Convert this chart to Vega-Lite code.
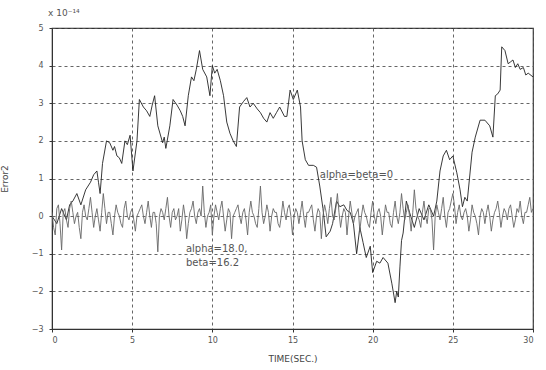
{
  "$schema": "https://vega.github.io/schema/vega-lite/v6.json",
  "autosize": "none",
  "width": 481,
  "height": 301,
  "padding": {"left": 52, "top": 28, "right": 13, "bottom": 41},
  "background": "white",
  "title": {"text": "x 10⁻¹⁴", "anchor": "start", "frame": "group", "fontSize": 9, "fontWeight": "normal", "color": "#555", "font": "DejaVu Sans", "offset": 6, "dx": -4},
  "config": {
    "view": {"stroke": "#333", "strokeWidth": 1.2},
    "axis": {"gridColor": "#555", "gridDash": [3, 3], "gridWidth": 1, "gridOpacity": 0.9, "domainColor": "#333", "tickColor": "#333", "tickSize": 3, "labelFont": "DejaVu Sans", "labelFontSize": 8, "labelColor": "#555", "labelOverlap": false, "titleFont": "DejaVu Sans", "titleFontWeight": "normal", "titleColor": "#444", "titleFontSize": 9}
  },
  "datasets": {
    "notes": [
      {"t": 16.7, "v": 1.08, "label": "alpha=beta=0"},
      {"t": 8.35, "v": -0.88, "label": "alpha=18.0,"},
      {"t": 8.35, "v": -1.25, "label": "beta=16.2"}
    ],
    "series": [
      {"s":"a","t":0,"v":0.0},{"s":"a","t":0.3,"v":-0.2},{"s":"a","t":0.6,"v":0.2},{"s":"a","t":0.9,"v":-0.1},{"s":"a","t":1.1,"v":0.3},
      {"s":"a","t":1.3,"v":0.4},{"s":"a","t":1.55,"v":0.6},{"s":"a","t":1.8,"v":0.3},{"s":"a","t":2.1,"v":0.7},{"s":"a","t":2.4,"v":0.9},{"s":"a","t":2.6,"v":1.1},{"s":"a","t":2.8,"v":1.2},{"s":"a","t":2.9,"v":0.9},{"s":"a","t":3.0,"v":0.6},{"s":"a","t":3.15,"v":1.4},
      {"s":"a","t":3.4,"v":2.0},{"s":"a","t":3.6,"v":1.95},{"s":"a","t":3.8,"v":1.75},{"s":"a","t":3.9,"v":1.85},{"s":"a","t":4.05,"v":1.6},{"s":"a","t":4.2,"v":1.55},{"s":"a","t":4.35,"v":1.4},{"s":"a","t":4.55,"v":2.0},{"s":"a","t":4.7,"v":1.9},{"s":"a","t":4.87,"v":2.15},{"s":"a","t":5.05,"v":1.2},
      {"s":"a","t":5.3,"v":2.0},{"s":"a","t":5.45,"v":3.1},{"s":"a","t":5.7,"v":2.9},{"s":"a","t":5.9,"v":2.8},{"s":"a","t":6.1,"v":2.65},{"s":"a","t":6.25,"v":2.95},{"s":"a","t":6.4,"v":3.2},{"s":"a","t":6.6,"v":2.4},{"s":"a","t":6.9,"v":1.95},{"s":"a","t":7.0,"v":2.1},{"s":"a","t":7.1,"v":1.8},
      {"s":"a","t":7.35,"v":2.4},{"s":"a","t":7.55,"v":3.1},{"s":"a","t":7.8,"v":2.95},{"s":"a","t":8.0,"v":2.8},{"s":"a","t":8.15,"v":2.65},{"s":"a","t":8.3,"v":2.4},{"s":"a","t":8.5,"v":3.2},{"s":"a","t":8.7,"v":3.7},{"s":"a","t":8.85,"v":3.6},{"s":"a","t":9.0,"v":3.9},{"s":"a","t":9.2,"v":4.4},
      {"s":"a","t":9.4,"v":3.9},{"s":"a","t":9.65,"v":3.7},{"s":"a","t":9.85,"v":3.2},{"s":"a","t":10.0,"v":4.0},{"s":"a","t":10.15,"v":3.8},{"s":"a","t":10.3,"v":3.9},{"s":"a","t":10.5,"v":3.6},{"s":"a","t":10.7,"v":3.2},{"s":"a","t":10.9,"v":2.5},{"s":"a","t":11.1,"v":2.2},
      {"s":"a","t":11.3,"v":2.0},{"s":"a","t":11.5,"v":1.85},{"s":"a","t":11.7,"v":2.9},{"s":"a","t":11.95,"v":3.05},{"s":"a","t":12.15,"v":3.15},{"s":"a","t":12.35,"v":2.9},{"s":"a","t":12.55,"v":3.0},{"s":"a","t":12.8,"v":2.85},{"s":"a","t":13.0,"v":2.75},
      {"s":"a","t":13.2,"v":2.6},{"s":"a","t":13.4,"v":2.5},{"s":"a","t":13.6,"v":2.75},{"s":"a","t":13.8,"v":2.6},{"s":"a","t":14.0,"v":2.75},{"s":"a","t":14.2,"v":2.9},{"s":"a","t":14.5,"v":2.65},{"s":"a","t":14.65,"v":2.65},{"s":"a","t":14.85,"v":3.35},
      {"s":"a","t":15.05,"v":3.1},{"s":"a","t":15.3,"v":3.35},{"s":"a","t":15.5,"v":2.9},{"s":"a","t":15.6,"v":2.0},{"s":"a","t":15.8,"v":1.5},{"s":"a","t":16.0,"v":1.35},{"s":"a","t":16.3,"v":1.35},{"s":"a","t":16.5,"v":1.3},{"s":"a","t":16.7,"v":0.8},
      {"s":"a","t":16.9,"v":0.2},{"s":"a","t":17.1,"v":-0.55},{"s":"a","t":17.35,"v":-0.4},{"s":"a","t":17.5,"v":-0.2},{"s":"a","t":17.75,"v":0.4},{"s":"a","t":17.95,"v":0.25},{"s":"a","t":18.2,"v":0.3},{"s":"a","t":18.4,"v":0.15},{"s":"a","t":18.6,"v":0.1},
      {"s":"a","t":18.8,"v":-0.2},{"s":"a","t":19.0,"v":-1.0},{"s":"a","t":19.2,"v":-0.3},{"s":"a","t":19.4,"v":-0.7},{"s":"a","t":19.6,"v":-1.1},{"s":"a","t":19.85,"v":-0.8},{"s":"a","t":20.0,"v":-1.5},{"s":"a","t":20.25,"v":-1.2},{"s":"a","t":20.45,"v":-1.25},
      {"s":"a","t":20.65,"v":-1.1},{"s":"a","t":20.95,"v":-1.25},{"s":"a","t":21.2,"v":-1.8},{"s":"a","t":21.4,"v":-2.3},{"s":"a","t":21.5,"v":-2.0},{"s":"a","t":21.6,"v":-2.15},{"s":"a","t":21.7,"v":-1.35},{"s":"a","t":21.8,"v":-0.65},{"s":"a","t":21.9,"v":-0.45},
      {"s":"a","t":22.1,"v":0.4},{"s":"a","t":22.3,"v":0.1},{"s":"a","t":22.6,"v":-0.3},{"s":"a","t":22.9,"v":0.2},{"s":"a","t":23.2,"v":-0.1},{"s":"a","t":23.5,"v":0.3},{"s":"a","t":23.8,"v":0.0},{"s":"a","t":24.0,"v":0.4},{"s":"a","t":24.2,"v":1.2},
      {"s":"a","t":24.4,"v":1.6},{"s":"a","t":24.6,"v":1.75},{"s":"a","t":24.8,"v":1.5},{"s":"a","t":25.0,"v":1.6},{"s":"a","t":25.25,"v":1.15},{"s":"a","t":25.45,"v":0.7},{"s":"a","t":25.6,"v":0.25},{"s":"a","t":25.75,"v":0.5},{"s":"a","t":25.9,"v":0.4},
      {"s":"a","t":26.2,"v":1.7},{"s":"a","t":26.4,"v":2.1},{"s":"a","t":26.7,"v":2.55},{"s":"a","t":27.0,"v":2.55},{"s":"a","t":27.3,"v":2.4},{"s":"a","t":27.5,"v":2.1},{"s":"a","t":27.65,"v":3.2},{"s":"a","t":27.8,"v":3.25},{"s":"a","t":27.95,"v":3.35},
      {"s":"a","t":28.05,"v":4.5},{"s":"a","t":28.25,"v":4.4},{"s":"a","t":28.45,"v":4.05},{"s":"a","t":28.6,"v":4.1},{"s":"a","t":28.75,"v":4.15},{"s":"a","t":28.9,"v":3.95},{"s":"a","t":29.05,"v":4.05},{"s":"a","t":29.2,"v":3.9},{"s":"a","t":29.4,"v":3.95},{"s":"a","t":29.55,"v":3.75},{"s":"a","t":29.7,"v":3.8},{"s":"a","t":30.0,"v":3.7},
      {"s":"b","t":0.0,"v":0.1},{"s":"b","t":0.1,"v":-0.3},{"s":"b","t":0.2,"v":-0.5},{"s":"b","t":0.3,"v":0.2},{"s":"b","t":0.4,"v":0.3},{"s":"b","t":0.5,"v":-0.2},{"s":"b","t":0.6,"v":-0.9},{"s":"b","t":0.7,"v":0.1},{"s":"b","t":0.8,"v":0.2},{"s":"b","t":0.9,"v":-0.1},
      {"s":"b","t":1.0,"v":-0.3},{"s":"b","t":1.1,"v":0.2},{"s":"b","t":1.2,"v":0.4},{"s":"b","t":1.3,"v":0.1},{"s":"b","t":1.4,"v":-0.2},{"s":"b","t":1.5,"v":0.0},{"s":"b","t":1.6,"v":0.1},{"s":"b","t":1.7,"v":-0.3},{"s":"b","t":1.8,"v":-0.6},{"s":"b","t":1.9,"v":0.1},
      {"s":"b","t":2.0,"v":0.3},{"s":"b","t":2.1,"v":0.0},{"s":"b","t":2.2,"v":-0.1},{"s":"b","t":2.3,"v":0.2},{"s":"b","t":2.4,"v":0.5},{"s":"b","t":2.5,"v":0.1},{"s":"b","t":2.6,"v":-0.3},{"s":"b","t":2.7,"v":0.0},{"s":"b","t":2.8,"v":0.2},{"s":"b","t":2.9,"v":-0.1},
      {"s":"b","t":3.0,"v":-0.4},{"s":"b","t":3.1,"v":0.1},{"s":"b","t":3.2,"v":0.6},{"s":"b","t":3.3,"v":0.2},{"s":"b","t":3.4,"v":-0.2},{"s":"b","t":3.5,"v":0.1},{"s":"b","t":3.6,"v":0.1},{"s":"b","t":3.7,"v":-0.2},{"s":"b","t":3.8,"v":-0.5},{"s":"b","t":3.9,"v":0.0},
      {"s":"b","t":4.0,"v":0.3},{"s":"b","t":4.1,"v":0.1},{"s":"b","t":4.2,"v":0.0},{"s":"b","t":4.3,"v":-0.2},{"s":"b","t":4.4,"v":-0.3},{"s":"b","t":4.5,"v":0.2},{"s":"b","t":4.6,"v":0.4},{"s":"b","t":4.7,"v":0.0},{"s":"b","t":4.8,"v":-0.1},{"s":"b","t":4.9,"v":0.1},
      {"s":"b","t":5.0,"v":0.2},{"s":"b","t":5.1,"v":-0.1},{"s":"b","t":5.2,"v":-0.4},{"s":"b","t":5.3,"v":0.0},{"s":"b","t":5.4,"v":0.1},{"s":"b","t":5.5,"v":0.2},{"s":"b","t":5.6,"v":0.3},{"s":"b","t":5.7,"v":0.0},{"s":"b","t":5.8,"v":-0.2},{"s":"b","t":5.9,"v":0.1},
      {"s":"b","t":6.0,"v":0.4},{"s":"b","t":6.1,"v":0.0},{"s":"b","t":6.2,"v":-0.3},{"s":"b","t":6.3,"v":0.1},{"s":"b","t":6.4,"v":0.1},{"s":"b","t":6.5,"v":-0.2},{"s":"b","t":6.6,"v":-0.95},{"s":"b","t":6.7,"v":0.0},{"s":"b","t":6.8,"v":0.2},{"s":"b","t":6.9,"v":0.1},
      {"s":"b","t":7.0,"v":-0.1},{"s":"b","t":7.1,"v":0.2},{"s":"b","t":7.2,"v":0.5},{"s":"b","t":7.3,"v":0.0},{"s":"b","t":7.4,"v":-0.3},{"s":"b","t":7.5,"v":0.1},{"s":"b","t":7.6,"v":0.2},{"s":"b","t":7.7,"v":-0.1},{"s":"b","t":7.8,"v":0.0},{"s":"b","t":7.9,"v":0.2},
      {"s":"b","t":8.0,"v":-0.4},{"s":"b","t":8.1,"v":-0.1},{"s":"b","t":8.2,"v":0.3},{"s":"b","t":8.3,"v":0.0},{"s":"b","t":8.4,"v":-0.6},{"s":"b","t":8.5,"v":-0.2},{"s":"b","t":8.6,"v":0.1},{"s":"b","t":8.7,"v":0.2},{"s":"b","t":8.8,"v":0.4},{"s":"b","t":8.9,"v":0.0},
      {"s":"b","t":9.0,"v":-0.2},{"s":"b","t":9.1,"v":0.1},{"s":"b","t":9.2,"v":0.2},{"s":"b","t":9.3,"v":0.0},{"s":"b","t":9.4,"v":0.8},{"s":"b","t":9.5,"v":0.1},{"s":"b","t":9.6,"v":-0.3},{"s":"b","t":9.7,"v":0.0},{"s":"b","t":9.8,"v":0.1},{"s":"b","t":9.9,"v":0.3},
      {"s":"b","t":10.0,"v":-0.5},{"s":"b","t":10.1,"v":0.0},{"s":"b","t":10.2,"v":0.3},{"s":"b","t":10.3,"v":0.1},{"s":"b","t":10.4,"v":-0.1},{"s":"b","t":10.5,"v":0.2},{"s":"b","t":10.6,"v":0.4},{"s":"b","t":10.7,"v":0.0},{"s":"b","t":10.8,"v":-0.4},{"s":"b","t":10.9,"v":-0.1},
      {"s":"b","t":11.0,"v":0.2},{"s":"b","t":11.1,"v":0.1},{"s":"b","t":11.2,"v":-0.6},{"s":"b","t":11.3,"v":0.0},{"s":"b","t":11.4,"v":0.1},{"s":"b","t":11.5,"v":0.2},{"s":"b","t":11.6,"v":0.3},{"s":"b","t":11.7,"v":0.0},{"s":"b","t":11.8,"v":-0.2},{"s":"b","t":11.9,"v":0.1},
      {"s":"b","t":12.0,"v":0.2},{"s":"b","t":12.1,"v":-0.1},{"s":"b","t":12.2,"v":-0.5},{"s":"b","t":12.3,"v":0.1},{"s":"b","t":12.4,"v":0.4},{"s":"b","t":12.5,"v":0.1},{"s":"b","t":12.6,"v":0.0},{"s":"b","t":12.7,"v":-0.2},{"s":"b","t":12.8,"v":-0.3},{"s":"b","t":12.9,"v":0.2},
      {"s":"b","t":13.0,"v":0.8},{"s":"b","t":13.1,"v":0.1},{"s":"b","t":13.2,"v":-0.2},{"s":"b","t":13.3,"v":0.0},{"s":"b","t":13.4,"v":0.3},{"s":"b","t":13.5,"v":0.1},{"s":"b","t":13.6,"v":-0.4},{"s":"b","t":13.7,"v":0.0},{"s":"b","t":13.8,"v":0.2},{"s":"b","t":13.9,"v":0.1},
      {"s":"b","t":14.0,"v":0.1},{"s":"b","t":14.1,"v":-0.2},{"s":"b","t":14.2,"v":-0.3},{"s":"b","t":14.3,"v":0.0},{"s":"b","t":14.4,"v":0.4},{"s":"b","t":14.5,"v":0.1},{"s":"b","t":14.6,"v":-0.1},{"s":"b","t":14.7,"v":0.2},{"s":"b","t":14.8,"v":0.3},{"s":"b","t":14.9,"v":0.0},
      {"s":"b","t":15.0,"v":-0.5},{"s":"b","t":15.1,"v":0.0},{"s":"b","t":15.2,"v":0.2},{"s":"b","t":15.3,"v":0.1},{"s":"b","t":15.4,"v":-0.2},{"s":"b","t":15.5,"v":0.1},{"s":"b","t":15.6,"v":0.4},{"s":"b","t":15.7,"v":0.0},{"s":"b","t":15.8,"v":-0.3},{"s":"b","t":15.9,"v":0.1},
      {"s":"b","t":16.0,"v":0.1},{"s":"b","t":16.1,"v":0.2},{"s":"b","t":16.2,"v":0.3},{"s":"b","t":16.3,"v":-0.1},{"s":"b","t":16.4,"v":-0.4},{"s":"b","t":16.5,"v":0.0},{"s":"b","t":16.6,"v":0.2},{"s":"b","t":16.7,"v":0.1},{"s":"b","t":16.8,"v":-0.6},{"s":"b","t":16.9,"v":0.0},
      {"s":"b","t":17.0,"v":0.3},{"s":"b","t":17.1,"v":0.1},{"s":"b","t":17.2,"v":-0.2},{"s":"b","t":17.3,"v":0.2},{"s":"b","t":17.4,"v":0.5},{"s":"b","t":17.5,"v":0.0},{"s":"b","t":17.6,"v":-0.1},{"s":"b","t":17.7,"v":0.2},{"s":"b","t":17.8,"v":0.6},{"s":"b","t":17.9,"v":0.1},
      {"s":"b","t":18.0,"v":-0.3},{"s":"b","t":18.1,"v":0.0},{"s":"b","t":18.2,"v":0.2},{"s":"b","t":18.3,"v":0.1},{"s":"b","t":18.4,"v":-0.5},{"s":"b","t":18.5,"v":0.0},{"s":"b","t":18.6,"v":0.4},{"s":"b","t":18.7,"v":0.1},{"s":"b","t":18.8,"v":-0.2},{"s":"b","t":18.9,"v":0.0},
      {"s":"b","t":19.0,"v":0.1},{"s":"b","t":19.1,"v":0.2},{"s":"b","t":19.2,"v":-0.4},{"s":"b","t":19.3,"v":0.0},{"s":"b","t":19.4,"v":0.3},{"s":"b","t":19.5,"v":0.1},{"s":"b","t":19.6,"v":0.0},{"s":"b","t":19.7,"v":-0.2},{"s":"b","t":19.8,"v":-0.3},{"s":"b","t":19.9,"v":0.1},
      {"s":"b","t":20.0,"v":0.4},{"s":"b","t":20.1,"v":0.0},{"s":"b","t":20.2,"v":-0.2},{"s":"b","t":20.3,"v":0.1},{"s":"b","t":20.4,"v":0.2},{"s":"b","t":20.5,"v":0.0},{"s":"b","t":20.6,"v":-0.5},{"s":"b","t":20.7,"v":-0.1},{"s":"b","t":20.8,"v":0.3},{"s":"b","t":20.9,"v":0.1},
      {"s":"b","t":21.0,"v":0.1},{"s":"b","t":21.1,"v":-0.2},{"s":"b","t":21.2,"v":-0.3},{"s":"b","t":21.3,"v":0.1},{"s":"b","t":21.4,"v":0.4},{"s":"b","t":21.5,"v":0.0},{"s":"b","t":21.6,"v":-0.2},{"s":"b","t":21.7,"v":0.1},{"s":"b","t":21.8,"v":0.6},{"s":"b","t":21.9,"v":0.2},
      {"s":"b","t":22.0,"v":-0.1},{"s":"b","t":22.1,"v":0.1},{"s":"b","t":22.2,"v":0.3},{"s":"b","t":22.3,"v":0.0},{"s":"b","t":22.4,"v":-0.4},{"s":"b","t":22.5,"v":0.1},{"s":"b","t":22.6,"v":0.7},{"s":"b","t":22.7,"v":0.2},{"s":"b","t":22.8,"v":0.0},{"s":"b","t":22.9,"v":-0.1},
      {"s":"b","t":23.0,"v":-0.3},{"s":"b","t":23.1,"v":0.1},{"s":"b","t":23.2,"v":0.4},{"s":"b","t":23.3,"v":0.0},{"s":"b","t":23.4,"v":-0.2},{"s":"b","t":23.5,"v":0.2},{"s":"b","t":23.6,"v":0.2},{"s":"b","t":23.7,"v":-0.1},{"s":"b","t":23.8,"v":-0.9},{"s":"b","t":23.9,"v":0.0},
      {"s":"b","t":24.0,"v":0.3},{"s":"b","t":24.1,"v":0.1},{"s":"b","t":24.2,"v":-0.1},{"s":"b","t":24.3,"v":0.2},{"s":"b","t":24.4,"v":0.5},{"s":"b","t":24.5,"v":0.0},{"s":"b","t":24.6,"v":-0.3},{"s":"b","t":24.7,"v":0.1},{"s":"b","t":24.8,"v":0.2},{"s":"b","t":24.9,"v":0.4},
      {"s":"b","t":25.0,"v":0.6},{"s":"b","t":25.1,"v":0.3},{"s":"b","t":25.2,"v":-0.2},{"s":"b","t":25.3,"v":0.1},{"s":"b","t":25.4,"v":0.3},{"s":"b","t":25.5,"v":0.0},{"s":"b","t":25.6,"v":-0.1},{"s":"b","t":25.7,"v":0.1},{"s":"b","t":25.8,"v":0.2},{"s":"b","t":25.9,"v":0.0},
      {"s":"b","t":26.0,"v":-0.4},{"s":"b","t":26.1,"v":-0.1},{"s":"b","t":26.2,"v":0.3},{"s":"b","t":26.3,"v":0.1},{"s":"b","t":26.4,"v":0.0},{"s":"b","t":26.5,"v":-0.2},{"s":"b","t":26.6,"v":-0.5},{"s":"b","t":26.7,"v":0.0},{"s":"b","t":26.8,"v":0.2},{"s":"b","t":26.9,"v":0.1},
      {"s":"b","t":27.0,"v":-0.2},{"s":"b","t":27.1,"v":0.1},{"s":"b","t":27.2,"v":0.3},{"s":"b","t":27.3,"v":0.0},{"s":"b","t":27.4,"v":-0.4},{"s":"b","t":27.5,"v":-0.1},{"s":"b","t":27.6,"v":0.1},{"s":"b","t":27.7,"v":0.2},{"s":"b","t":27.8,"v":0.4},{"s":"b","t":27.9,"v":0.1},
      {"s":"b","t":28.0,"v":-0.3},{"s":"b","t":28.1,"v":0.0},{"s":"b","t":28.2,"v":0.2},{"s":"b","t":28.3,"v":0.1},{"s":"b","t":28.4,"v":-0.1},{"s":"b","t":28.5,"v":0.2},{"s":"b","t":28.6,"v":0.3},{"s":"b","t":28.7,"v":0.0},{"s":"b","t":28.8,"v":-0.3},{"s":"b","t":28.9,"v":-0.1},
      {"s":"b","t":29.0,"v":0.2},{"s":"b","t":29.1,"v":0.1},{"s":"b","t":29.2,"v":0.4},{"s":"b","t":29.3,"v":0.0},{"s":"b","t":29.4,"v":-0.2},{"s":"b","t":29.5,"v":0.1},{"s":"b","t":29.6,"v":0.1},{"s":"b","t":29.7,"v":0.3},{"s":"b","t":29.8,"v":0.5},{"s":"b","t":29.9,"v":0.1},{"s":"b","t":30.0,"v":0.2}
    ]
  },
  "encoding": {
    "x": {"field": "t", "type": "quantitative", "scale": {"domain": [0, 30], "nice": false}, "axis": {"values": [0, 5, 10, 15, 20, 25, 30], "title": "TIME(SEC.)", "titlePadding": 10, "labelPadding": 4, "grid": true}},
    "y": {"field": "v", "type": "quantitative", "scale": {"domain": [-3, 5], "nice": false}, "axis": {"values": [-3, -2, -1, 0, 1, 2, 3, 4, 5], "title": "Error2", "titlePadding": 22, "labelPadding": 6, "grid": true}}
  },
  "layer": [
    {
      "data": {"name": "series"},
      "mark": {"type": "line", "strokeWidth": 0.9, "clip": true},
      "encoding": {
        "color": {"field": "s", "type": "nominal", "scale": {"domain": ["a", "b"], "range": ["#222222", "#666666"]}, "legend": null},
        "order": {"field": "t", "type": "quantitative"}
      }
    },
    {
      "data": {"name": "notes"},
      "mark": {"type": "text", "align": "left", "baseline": "middle", "font": "DejaVu Sans", "fontSize": 10, "color": "#555"},
      "encoding": {
        "text": {"field": "label"}
      }
    }
  ]
}
